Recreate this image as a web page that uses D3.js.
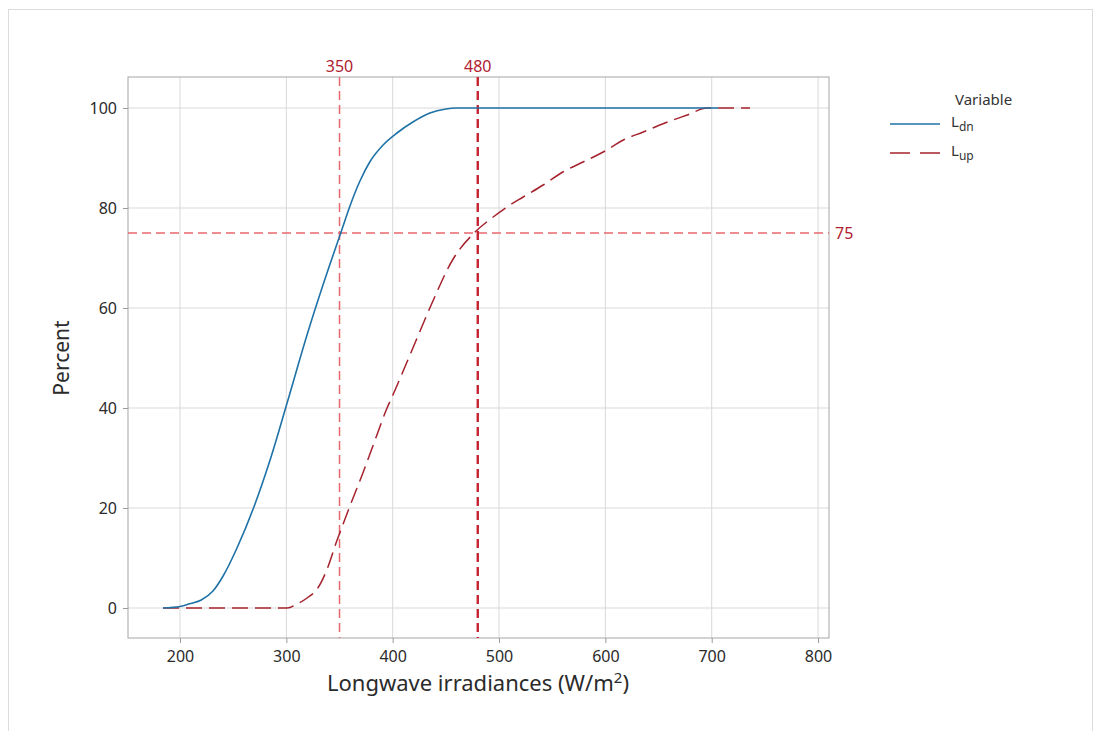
<!DOCTYPE html>
<html>
<head>
<meta charset="utf-8">
<script src="https://cdn.jsdelivr.net/npm/d3@7"></script>
<style>
  body { margin: 0; background: #fff; }
  text { font-family: "Noto Sans", "Open Sans", sans-serif; }
</style>
</head>
<body>
<div id="chart"></div>
<script>
const width = 1094;
const height = 731;

const ldnX = [184, 200, 210, 220, 231, 240, 253.6, 270, 284.7, 300.7, 320, 340.6, 351.5, 360, 369, 378.7, 391, 404, 419, 435, 450, 460, 706];
const ldnY = [0, 0.3, 0.9, 1.6, 3.4, 6.2, 12, 20.5, 29.6, 41, 55, 68.5, 75.2, 80.5, 85.3, 89.3, 92.6, 95, 97.2, 99, 99.8, 100, 100];
const lupX = [184, 200, 250, 300.7, 310, 319.5, 329, 338, 347.6, 352, 360, 372, 385, 394.7, 400, 420, 437, 456, 477.5, 494.5, 507.5, 522.7, 541.5, 560, 579, 598, 617, 635.6, 656, 677, 695.8, 736];
const lupY = [0, 0, 0, 0, 0.8, 2, 3.8, 7.6, 13.5, 16, 20.5, 27, 34.5, 40, 42.5, 52.5, 61, 69.5, 75.2, 78.2, 80.2, 82.2, 84.6, 87.2, 89.2, 91.2, 93.6, 95.2, 97, 98.6, 100, 100];

const xTicks = [200, 300, 400, 500, 600, 700, 800];
const yTicks = [0, 20, 40, 60, 80, 100];
const refX = [350, 480];
const refY = [75];

const margin = { left: 128, top: 77, right: 829, bottom: 638 };

const svg = d3.select("#chart")
    .append("svg")
    .attr("width", width)
    .attr("height", height);

// outer frame
svg.append("rect")
    .attr("x", 8.5).attr("y", 9.5)
    .attr("width", 1084).attr("height", 740)
    .attr("fill", "none")
    .attr("stroke", "#dcdcdc");

const x = d3.scaleLinear().domain([151.1, 810.3]).range([margin.left, margin.right]);
const y = d3.scaleLinear().domain([-6, 106.2]).range([margin.bottom, margin.top]);

// gridlines
svg.append("g").selectAll("line")
    .data(xTicks)
    .enter().append("line")
    .attr("x1", d => x(d)).attr("x2", d => x(d))
    .attr("y1", margin.top).attr("y2", margin.bottom)
    .attr("stroke", "#d9d9d9");

svg.append("g").selectAll("line")
    .data(yTicks)
    .enter().append("line")
    .attr("x1", margin.left).attr("x2", margin.right)
    .attr("y1", d => y(d)).attr("y2", d => y(d))
    .attr("stroke", "#d9d9d9");

// axes
const xAxis = svg.append("g")
    .attr("transform", `translate(0,${margin.bottom})`)
    .call(d3.axisBottom(x).tickValues(xTicks).tickSize(5).tickPadding(8));
const yAxis = svg.append("g")
    .attr("transform", `translate(${margin.left},0)`)
    .call(d3.axisLeft(y).tickValues(yTicks).tickSize(5).tickPadding(6));

[xAxis, yAxis].forEach(a => {
    a.select(".domain").remove();
    a.selectAll("line").attr("stroke", "#9a9a9a");
    a.selectAll("text").attr("font-size", "16px").attr("fill", "#2b2b2b")
        .style("font-family", "'Noto Sans', sans-serif");
});

// frame
svg.append("rect")
    .attr("x", margin.left).attr("y", margin.top)
    .attr("width", margin.right - margin.left)
    .attr("height", margin.bottom - margin.top)
    .attr("fill", "none")
    .attr("stroke", "#a6a6a6");

// reference lines
svg.append("line")
    .attr("x1", x(refX[0])).attr("x2", x(refX[0]))
    .attr("y1", margin.top).attr("y2", margin.bottom)
    .attr("stroke", "#e8676d").attr("stroke-width", 1.5)
    .attr("stroke-dasharray", "9,5");

svg.append("line")
    .attr("x1", margin.left).attr("x2", margin.right)
    .attr("y1", y(refY[0])).attr("y2", y(refY[0]))
    .attr("stroke", "#e8676d").attr("stroke-width", 1.5)
    .attr("stroke-dasharray", "9,5");

svg.append("line")
    .attr("x1", x(refX[1])).attr("x2", x(refX[1]))
    .attr("y1", margin.top).attr("y2", margin.bottom)
    .attr("stroke", "#c62330").attr("stroke-width", 2.4)
    .attr("stroke-dasharray", "9,5");

svg.selectAll(".refxlab")
    .data(refX)
    .enter().append("text")
    .attr("x", d => x(d))
    .attr("y", margin.top - 5)
    .attr("text-anchor", "middle")
    .attr("font-size", "16px")
    .attr("fill", "#b02030")
    .text(d => d);

svg.append("text")
    .attr("x", margin.right + 6)
    .attr("y", y(refY[0]))
    .attr("dy", "0.35em")
    .attr("font-size", "16px")
    .attr("fill", "#b02030")
    .text(refY[0]);

// CDF lines
const line = d3.line()
    .x(d => x(d[0]))
    .y(d => y(d[1]))
    .curve(d3.curveMonotoneX);

svg.append("path")
    .datum(d3.zip(lupX, lupY))
    .attr("d", line)
    .attr("fill", "none")
    .attr("stroke", "#a5222d")
    .attr("stroke-width", 1.5)
    .attr("stroke-dasharray", "16,7");

svg.append("path")
    .datum(d3.zip(ldnX, ldnY))
    .attr("d", line)
    .attr("fill", "none")
    .attr("stroke", "#1f72a6")
    .attr("stroke-width", 1.6);

// axis titles
svg.append("text")
    .attr("x", 478)
    .attr("y", 691)
    .attr("text-anchor", "middle")
    .attr("font-size", "22px")
    .attr("fill", "#2b2b2b")
    .html('Longwave irradiances (W/m<tspan dy="-8" font-size="15px">2</tspan><tspan dy="8">)</tspan>');

svg.append("text")
    .attr("transform", "translate(69,358) rotate(-90)")
    .attr("text-anchor", "middle")
    .attr("font-size", "21px")
    .attr("fill", "#2b2b2b")
    .text("Percent");

// legend
const legend = svg.append("g").attr("transform", "translate(890,0)");
legend.append("text")
    .attr("x", 65).attr("y", 105)
    .attr("font-size", "15px").attr("fill", "#333")
    .text("Variable");

const legendData = [
    { name: "L", sub: "dn", color: "#1f72a6", dash: null, y: 124 },
    { name: "L", sub: "up", color: "#a5222d", dash: "20,10", y: 153 }
];

legendData.forEach(d => {
    legend.append("line")
        .attr("x1", 0).attr("x2", 50)
        .attr("y1", d.y).attr("y2", d.y)
        .attr("stroke", d.color)
        .attr("stroke-width", 1.6)
        .attr("stroke-dasharray", d.dash);
    const t = legend.append("text")
        .attr("x", 61).attr("y", d.y + 3)
        .attr("font-size", "15px").attr("fill", "#333");
    t.append("tspan").text(d.name);
    t.append("tspan").attr("dy", 4).attr("font-size", "12px").text(d.sub);
});
</script>
</body>
</html>
